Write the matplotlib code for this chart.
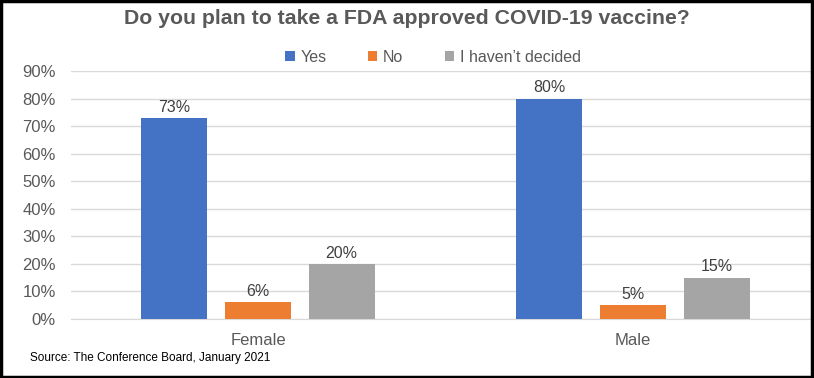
import matplotlib.pyplot as plt
import numpy as np

plt.rcParams['font.family'] = ['Liberation Sans', 'DejaVu Sans']

categories = ['Female', 'Male']
series = ['Yes', 'No', "I haven\u2019t decided"]
yes = [73, 80]
no = [6, 5]
undecided = [20, 15]
colors = ['#4472C4', '#ED7D31', '#A5A5A5']
text_c = '#595959'

fig = plt.figure(figsize=(8.14, 3.78), dpi=100)
ax = fig.add_axes([70.5 / 814, 1 - 319 / 378, 750 / 814, 248 / 378])

x = np.arange(len(categories))
step = 0.223
width = 0.176
for i, (vals, name) in enumerate(zip([yes, no, undecided], series)):
    pos = x + (i - 1) * step
    bars = ax.bar(pos, vals, width, color=colors[i], label=name, zorder=3)
    for b, v in zip(bars, vals):
        ax.text(b.get_x() + b.get_width() / 2, v + 1.2, f'{v}%', ha='center',
                va='bottom', fontsize=11.5, color='#404040')

ax.set_xlim(-0.5, 1.5)
ax.set_ylim(0, 90)
ax.set_yticks(range(0, 91, 10))
ax.set_yticklabels([f'{t}%' for t in range(0, 91, 10)])
ax.set_xticks(x)
ax.set_xticklabels(categories)
ax.grid(axis='y', color='#D9D9D9', linewidth=1, zorder=0)
for s in ax.spines.values():
    s.set_visible(False)
ax.spines['bottom'].set_visible(True)
ax.spines['bottom'].set_color('#D9D9D9')
ax.tick_params(axis='both', length=0, labelsize=12, colors=text_c)
ax.tick_params(axis='y', pad=10.5)
ax.tick_params(axis='x', pad=10)

fig.text(0.5, 1 - 18 / 378, 'Do you plan to take a FDA approved COVID-19 vaccine?',
         ha='center', va='center', fontsize=15.3, fontweight='bold', color=text_c)
fig.legend(loc='center', bbox_to_anchor=(433 / 814, 1 - 57 / 378), ncol=3,
           frameon=False, fontsize=11.5, handlelength=0.6, handleheight=0.6,
           handletextpad=0.35, columnspacing=2.6, labelcolor=text_c)
fig.text(30 / 814, 1 - 358 / 378, 'Source: The Conference Board, January 2021',
         ha='left', va='center', fontsize=8.5, color='black')

fig.add_artist(plt.Rectangle((0.001, 0.002), 0.997, 0.995, transform=fig.transFigure,
                             fill=False, edgecolor='black', linewidth=2.5))

fig.savefig('out.png', dpi=100)
